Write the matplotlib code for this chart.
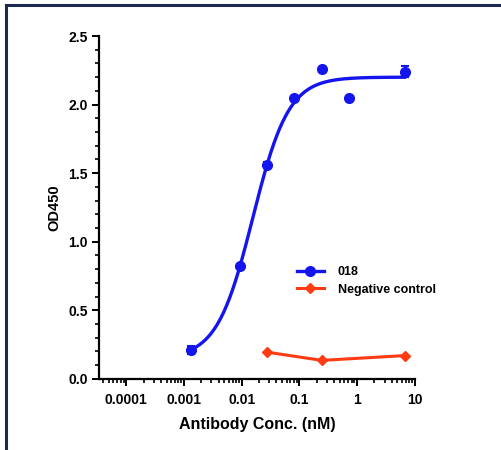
"""ELISA binding curve of antibody 018 vs negative control (OD450)."""

import matplotlib

matplotlib.use("Agg")
import matplotlib.pyplot as plt
import numpy as np
from matplotlib.lines import Line2D
from matplotlib.ticker import FixedLocator, MultipleLocator, LogLocator, NullFormatter

plt.rcParams["font.family"] = ["Liberation Sans", "DejaVu Sans"]
plt.rcParams["font.weight"] = "bold"

# 018 antibody, measured points (nM, OD450)
conc_018 = [0.00132, 0.0092, 0.0274, 0.082, 0.245, 0.73, 6.7]
od_018 = [0.21, 0.82, 1.56, 2.05, 2.26, 2.05, 2.24]
err_018 = [0.03, 0.0, 0.02, 0.0, 0.0, 0.0, 0.04]

# negative control (nM, OD450)
conc_neg = [0.0274, 0.245, 6.7]
od_neg = [0.195, 0.135, 0.17]

# 4PL fit
FIT_BOTTOM = 0.15
FIT_TOP = 2.2
FIT_EC50 = 0.0156
FIT_HILL = 1.4

BLUE = "#1414EE"
RED = "#FF3B14"

x_fit = np.logspace(np.log10(conc_018[0]), np.log10(conc_018[-1]), 300)
y_fit = FIT_BOTTOM + (FIT_TOP - FIT_BOTTOM) / (1 + (FIT_EC50 / x_fit) ** FIT_HILL)

fig = plt.figure(figsize=(5.01, 4.5), dpi=100)
ax = fig.add_axes([0.198, 0.158, 0.630, 0.762])

ax.plot(x_fit, y_fit, color=BLUE, lw=2.4, zorder=3)
ax.errorbar(conc_018, od_018, yerr=err_018, fmt="o", color=BLUE, ms=7,
            capsize=3, elinewidth=1.5, capthick=1.5, zorder=4)
ax.plot(conc_neg, od_neg, color=RED, lw=2.2, marker="D", ms=5, zorder=3)

ax.set_xscale("log")
ax.set_xlim(3.4e-5, 10)
ax.set_ylim(0, 2.5)

ax.xaxis.set_major_locator(FixedLocator([1e-4, 1e-3, 1e-2, 1e-1, 1, 10]))
ax.set_xticklabels(["0.0001", "0.001", "0.01", "0.1", "1", "10"])
ax.xaxis.set_minor_locator(LogLocator(base=10, subs=np.arange(2, 10)))
ax.xaxis.set_minor_formatter(NullFormatter())
ax.yaxis.set_major_locator(MultipleLocator(0.5))
ax.yaxis.set_minor_locator(MultipleLocator(0.1))
ax.set_yticklabels([f"{v:.1f}" for v in ax.get_yticks()])

for s in ("top", "right"):
    ax.spines[s].set_visible(False)
for s in ("left", "bottom"):
    ax.spines[s].set_linewidth(1.6)
ax.tick_params(which="major", length=5, width=1.4, labelsize=10, pad=3)
ax.tick_params(axis="x", which="major", pad=5)
ax.tick_params(which="minor", length=3, width=1.2)
for lab in ax.get_xticklabels() + ax.get_yticklabels():
    lab.set_fontweight("bold")

ax.set_xlabel("Antibody Conc. (nM)", fontsize=11.5, fontweight="bold", labelpad=7)
ax.set_ylabel("OD450", fontsize=10.5, fontweight="bold", labelpad=5)

handles = [
    Line2D([], [], color=BLUE, lw=2.4, marker="o", ms=7),
    Line2D([], [], color=RED, lw=2.2, marker="D", ms=5),
]
ax.legend(handles, ["018", "Negative control"], loc="upper left",
          bbox_to_anchor=(0.59, 0.362), frameon=False, fontsize=9,
          handlelength=2.2, handletextpad=1.1, labelspacing=0.45)

# dark frame along the top and left edges of the image
fig.add_artist(Line2D([0.012, 0.012], [0, 0.988], transform=fig.transFigure,
                      color="#1B2A4E", lw=2.2))
fig.add_artist(Line2D([0.012, 1], [0.988, 0.988], transform=fig.transFigure,
                      color="#1B2A4E", lw=2.2))

fig.savefig("out.png", dpi=100)
